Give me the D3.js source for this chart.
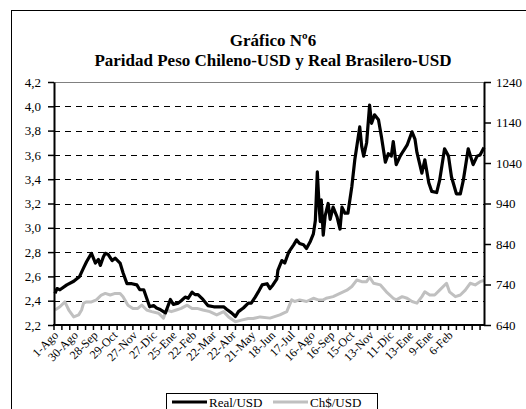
<!DOCTYPE html>
<html>
<head>
<meta charset="utf-8">
<script src="https://cdn.jsdelivr.net/npm/d3@7"></script>
<style>
	body { margin: 0; background: #fff; }
	text { font-family: 'Liberation Serif', 'Times New Roman', serif; }
</style>
</head>
<body>
<script>
// trading-day index and value pairs
var real_day = [1,3,6,13,20,26,30,33,38,42,45,47,50,52,55,59,62,67,70,74,79,84,87,91,94,97,101,104,107,113,118,121,126,129,133,136,140,143,146,151,156,162,167,172,175,180,184,187,192,197,200,204,207,211,216,219,222,226,227,231,234,238,243,246,249,253,256,260,263,265,267,269,270,271,273,275,278,280,283,287,290,292,295,298,302,305,310,312,314,317,320,322,325,329,332,336,339,342,344,347,351,354,358,363,366,368,373,376,380,383,388,391,396,400,403,408,412,415,420,425,429,432,436];
var real_val = [2.46,2.50,2.49,2.53,2.56,2.60,2.67,2.72,2.79,2.71,2.74,2.69,2.76,2.79,2.78,2.73,2.75,2.71,2.63,2.54,2.54,2.53,2.49,2.49,2.42,2.35,2.36,2.34,2.33,2.30,2.41,2.37,2.38,2.40,2.43,2.42,2.47,2.45,2.45,2.41,2.36,2.35,2.35,2.35,2.33,2.30,2.27,2.31,2.34,2.38,2.38,2.43,2.47,2.53,2.54,2.50,2.53,2.58,2.65,2.73,2.71,2.80,2.86,2.90,2.87,2.86,2.83,2.89,2.95,3.06,3.46,3.15,3.05,3.23,2.94,3.10,3.20,3.07,3.17,3.09,2.99,3.17,3.12,3.12,3.34,3.56,3.83,3.67,3.59,3.70,4.01,3.86,3.93,3.89,3.75,3.54,3.61,3.59,3.71,3.52,3.59,3.63,3.68,3.79,3.73,3.62,3.45,3.56,3.37,3.30,3.29,3.39,3.65,3.59,3.42,3.28,3.28,3.39,3.65,3.52,3.59,3.60,3.66];

var ch_day = [1,6,11,15,20,25,28,30,33,38,43,48,52,57,62,67,70,75,80,85,89,94,99,106,111,114,119,124,129,135,140,145,151,158,165,172,177,184,190,197,202,209,219,229,236,241,244,249,256,263,268,273,276,283,290,297,302,307,312,317,320,324,331,337,344,347,353,358,363,368,373,376,381,386,391,398,401,407,412,417,422,427,432,436];
var ch_val = [677,685,697,677,660,665,677,694,697,697,702,714,718,714,718,718,710,689,681,681,689,677,673,669,657,677,673,677,681,689,681,681,677,673,665,673,660,648,652,656,656,660,657,665,673,702,698,702,698,706,702,702,706,710,718,726,735,751,747,747,758,743,739,722,706,702,710,706,698,694,710,722,714,714,726,743,722,710,714,726,743,739,747,750];

// category labels on the x axis, one every 20 trading days
var date_labels = ['1-Ago','30-Ago','28-Sep','29-Oct','27-Nov','27-Dic','25-Ene','22-Feb','22-Mar','22-Abr','21-May','18-Jun','17-Jul','16-Ago','16-Sep','15-Oct','13-Nov','11-Dic','13-Ene','9-Ene','6-Feb'];
var left_ticks = [2.2,2.4,2.6,2.8,3.0,3.2,3.4,3.6,3.8,4.0,4.2];
var right_ticks = [640,740,840,940,1040,1140,1240];
var series_names = ['Real/USD','Ch$/USD'];

function plot_it() {
	var width = 526, height = 409;
	var left = 54, right = 484, top = 82, bottom = 325;
	var n_days = 436, label_step = 20, tick_step = 8;

	var svg = d3.select('body').append('svg').attr('width', width).attr('height', height);

	// outer chart frame (runs off the right and bottom edge)
	svg.append('rect').attr('x', 11.5).attr('y', 10.5).attr('width', 530).attr('height', 420)
		.attr('fill', '#fff').attr('stroke', '#000').attr('stroke-width', 1);

	// titles
	svg.append('text').attr('x', 273).attr('y', 46).attr('text-anchor', 'middle')
		.attr('font-size', 17).attr('font-weight', 'bold').text('Gráfico Nº6');
	svg.append('text').attr('x', 273).attr('y', 66).attr('text-anchor', 'middle')
		.attr('font-size', 17).attr('font-weight', 'bold').text('Paridad Peso Chileno-USD y Real Brasilero-USD');

	var x = d3.scaleLinear().domain([0, n_days]).range([left, right]);
	var y_left = d3.scaleLinear().domain([2.2, 4.2]).range([bottom, top]);
	var y_right = d3.scaleLinear().domain([640, 1240]).range([bottom, top]);

	// dashed gridlines
	svg.append('g').selectAll('line').data(left_ticks.slice(1, -1)).join('line')
		.attr('x1', left).attr('x2', right)
		.attr('y1', d => Math.round(y_left(d)) + 0.5).attr('y2', d => Math.round(y_left(d)) + 0.5)
		.attr('stroke', '#000').attr('stroke-width', 1).attr('stroke-dasharray', '6,5');
	svg.append('line').attr('x1', left).attr('x2', right).attr('y1', top + 0.5).attr('y2', top + 0.5)
		.attr('stroke', '#808080').attr('stroke-width', 1);

	// series lines
	var line_ch = d3.line().x((d, i) => x(ch_day[i])).y(d => y_right(d));
	var line_real = d3.line().x((d, i) => x(real_day[i])).y(d => y_left(d));
	svg.append('path').attr('d', line_ch(ch_val)).attr('fill', 'none')
		.attr('stroke', '#c0c0c0').attr('stroke-width', 3).attr('stroke-linejoin', 'round');
	svg.append('path').attr('d', line_real(real_val)).attr('fill', 'none')
		.attr('stroke', '#000').attr('stroke-width', 3.2).attr('stroke-linejoin', 'round');

	// left axis
	var fmt = d => d3.format('.1f')(d).replace('.', ',');
	var g_left = svg.append('g').attr('transform', 'translate(' + left + ',0)')
		.call(d3.axisLeft(y_left).tickValues(left_ticks).tickFormat(fmt).tickSize(6).tickSizeOuter(0).tickPadding(7));
	// right axis
	var g_right = svg.append('g').attr('transform', 'translate(' + right + ',0)')
		.call(d3.axisRight(y_right).tickValues(right_ticks).tickFormat(d3.format('d')).tickSize(7).tickSizeOuter(0).tickPadding(5));
	[g_left, g_right].forEach(g => {
		g.select('.domain').attr('stroke-width', 2);
		g.selectAll('.tick line').attr('stroke-width', 1.5);
		g.selectAll('text').attr('font-size', 13).attr('font-family', "'Liberation Serif', serif").attr('fill', '#000');
	});

	// bottom axis with its own tick marks and slanted labels
	var g_bottom = svg.append('g');
	g_bottom.append('line').attr('x1', left - 1).attr('x2', right + 1).attr('y1', bottom).attr('y2', bottom)
		.attr('stroke', '#000').attr('stroke-width', 2);
	g_bottom.selectAll('line.tk').data(d3.range(0, n_days + 1, tick_step)).join('line').attr('class', 'tk')
		.attr('x1', d => x(d)).attr('x2', d => x(d)).attr('y1', bottom).attr('y2', bottom + 5)
		.attr('stroke', '#000').attr('stroke-width', 1.5);
	g_bottom.selectAll('text').data(date_labels).join('text')
		.attr('transform', (d, i) => 'translate(' + (x(i * label_step) + 5) + ',' + (bottom + 11) + ') rotate(-45)')
		.attr('text-anchor', 'end').attr('font-size', 12).text(d => d);

	// legend
	var lg = svg.append('g');
	lg.append('rect').attr('x', 166.5).attr('y', 393.5).attr('width', 211).attr('height', 30)
		.attr('fill', '#fff').attr('stroke', '#000').attr('stroke-width', 1);
	var legend_x = [172, 273];
	var legend_col = ['#000', '#c0c0c0'];
	series_names.forEach((name, i) => {
		lg.append('line').attr('x1', legend_x[i]).attr('x2', legend_x[i] + 35).attr('y1', 402).attr('y2', 402)
			.attr('stroke', legend_col[i]).attr('stroke-width', 3);
		lg.append('text').attr('x', legend_x[i] + 37).attr('y', 407).attr('font-size', 13).text(name);
	});
}
plot_it();
</script>
</body>
</html>
